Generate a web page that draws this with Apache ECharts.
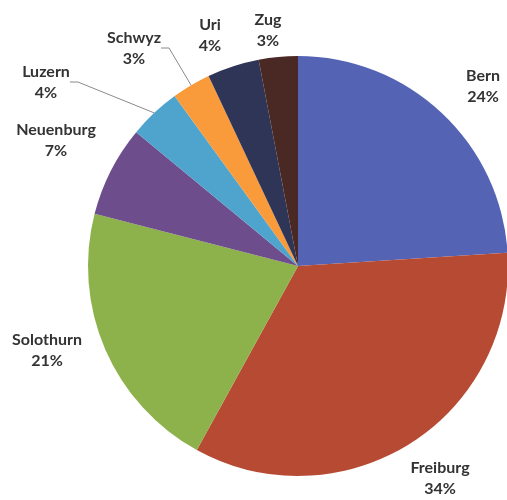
<!DOCTYPE html>
<html>
<head>
<meta charset="utf-8">
<script src="https://cdn.jsdelivr.net/npm/echarts@6/dist/echarts.min.js"></script>
<style>
  html, body { margin: 0; padding: 0; background: #fff; }
  #main { width: 507px; height: 500px; }
</style>
</head>
<body>
<div id="main"></div>
<script>
// Kantone und Anteile (Prozent), im Uhrzeigersinn ab 12 Uhr
var cantons = ['Bern', 'Freiburg', 'Solothurn', 'Neuenburg', 'Luzern', 'Schwyz', 'Uri', 'Zug'];
var shares = [24, 34, 21, 7, 4, 3, 4, 3];

// Farben der Segmente
var colors = ['#5463b4', '#b64a33', '#8db14b', '#6e4d8d', '#4ea4cd', '#f99b3b', '#2f3556', '#4a2823'];
// Beschriftungsorte (px), wie im Original verschoben
var labelSpots = [[483, 86], [440, 478], [47, 350], [56, 140], [46, 82], [134, 48], [210, 35], [268, 30]];
// nur diese beiden haben eine Linie
var withLine = ['Luzern', 'Schwyz'];

var chart = echarts.init(document.getElementById('main'));

var data = [];
for (var i = 0; i < cantons.length; i++) {
    data.push({
        name: cantons[i],
        value: shares[i],
        itemStyle: { color: colors[i] },
        labelLine: { show: withLine.indexOf(cantons[i]) >= 0 }
    });
}

var option = {
    animation: false,
    series: [{
        type: 'pie',
        center: [298, 266],
        radius: 210,
        startAngle: 90,
        clockwise: true,
        avoidLabelOverlap: false,
        itemStyle: { borderWidth: 0 },
        label: {
            show: true,
            position: 'outside',
            formatter: '{b}\n{d}%',
            fontFamily: 'Lato',
            fontWeight: 'bold',
            fontSize: 16,
            lineHeight: 21,
            color: '#333'
        },
        labelLine: {
            length: 20,
            length2: 8,
            lineStyle: { color: '#8a8a8a', width: 1 }
        },
        labelLayout: function (params) {
            var p = labelSpots[params.dataIndex];
            return { x: p[0], y: p[1], align: 'center', verticalAlign: 'middle' };
        },
        data: data
    }]
};

chart.setOption(option);
</script>
</body>
</html>
